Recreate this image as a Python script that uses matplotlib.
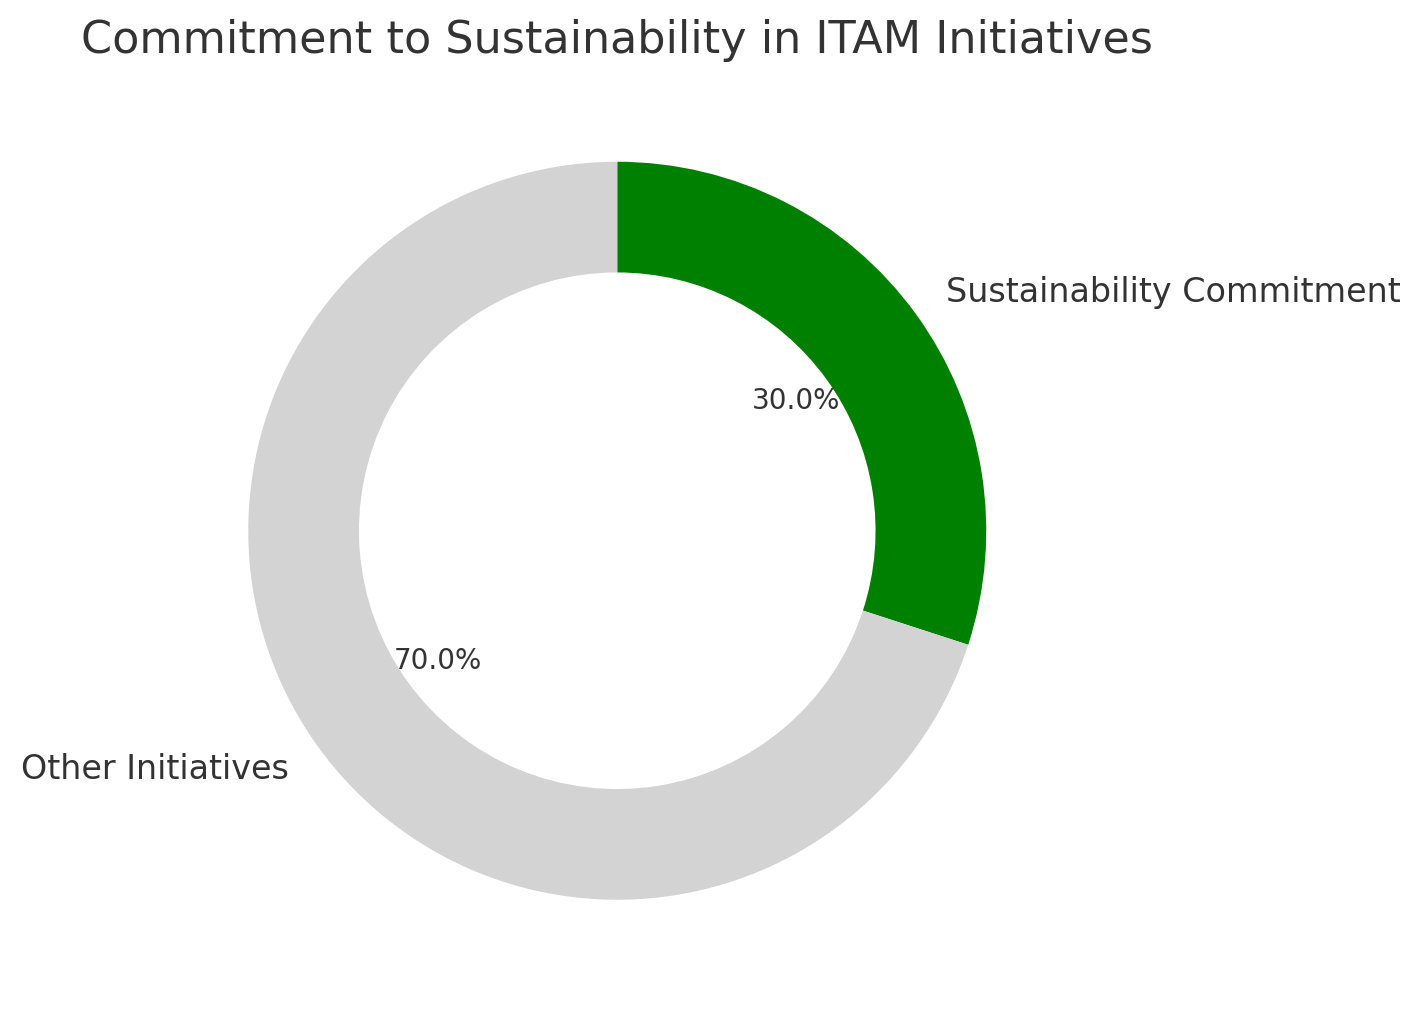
import matplotlib
matplotlib.use("Agg")
import matplotlib.pyplot as plt

# data
labels = ["Sustainability Commitment", "Other Initiatives"]
shares = [30, 70]
colors = ["green", "lightgray"]

text_color = "#333333"

fig = plt.figure(figsize=(7.1, 5.07), dpi=200)
# axes placed so the ring sits where the reference has it
ax = fig.add_axes([156 / 1420, 22 / 1014, 922.5 / 1420, 922.5 / 1014])

wedges, texts, autotexts = ax.pie(
    shares,
    labels=labels,
    colors=colors,
    autopct="%1.1f%%",
    startangle=90,
    counterclock=False,
    wedgeprops=dict(width=0.3),
    textprops=dict(color=text_color, fontsize=12),
)
for t in autotexts:
    t.set_fontsize(10)
    t.set_color(text_color)

ax.set_aspect("equal")
fig.text(617 / 1420, 1 - 40 / 1014, "Commitment to Sustainability in ITAM Initiatives",
         ha="center", va="center", fontsize=16, color=text_color)

fig.savefig("out.png", dpi=200)
